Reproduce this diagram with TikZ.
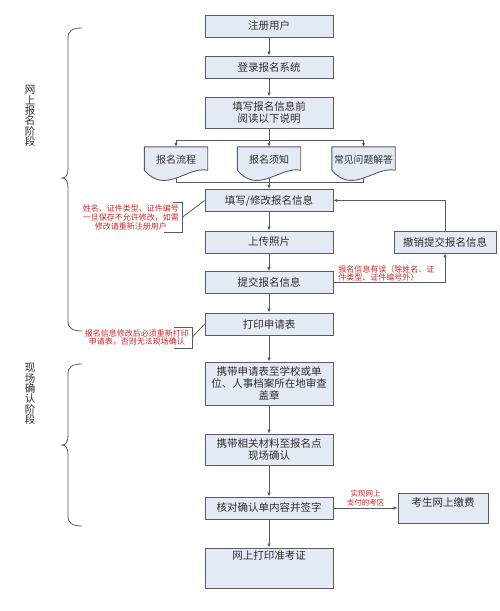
\documentclass[tikz,border=0pt]{standalone}
\usepackage{fontspec}
\setmainfont{Noto Sans CJK SC}
\usepackage{xcolor}
\usetikzlibrary{arrows.meta,backgrounds}
\definecolor{BoxFill}{RGB}{228,234,244}
\definecolor{BoxLine}{RGB}{88,92,98}
\definecolor{TextGray}{RGB}{45,45,45}
\definecolor{NoteRed}{RGB}{208,38,38}

\begin{document}
\begin{tikzpicture}[x=1pt, y=-1pt,
    stepbox/.style={draw=BoxLine, line width=0.9pt, fill=BoxFill, text=TextGray, minimum width=128pt,
      minimum height=22pt, inner sep=2pt, align=center, font=\fontsize{10.5}{12}\selectfont},
    docnode/.style={minimum width=63pt, minimum height=31pt, inner sep=1pt, text=TextGray,
      text height=9pt, text depth=8pt, font=\fontsize{10}{12}\selectfont},
    docline/.style={draw=BoxLine, line width=0.9pt, fill=BoxFill},
    toptext/.style={text height=9pt, text depth=#1},
    arr/.style={draw=BoxLine, line width=0.8pt, -{Latex[length=4pt,width=3.5pt]}},
    link/.style={draw=BoxLine, line width=0.8pt},
    note/.style={text=NoteRed, align=center, inner xsep=3pt, inner ysep=2pt, font=\fontsize{8}{8.8}\selectfont},
    stage/.style={text=TextGray, align=center, font=\fontsize{10.5}{10.4}\selectfont}]
  \useasboundingbox (0,0) rectangle (500,611);

  \node[stage] (wangshang) at (30,116) {网\\上\\报\\名\\阶\\段};
  \node[stage] (xianchang) at (30,394) {现\\场\\确\\认\\阶\\段};
  \foreach \t/\m/\b in {28/178/331, 364/445/526}
    \draw[link] (82,\t) .. controls (72,\t) and (68,\t+3) .. (68,\t+10) -- (68,\m-10)
      .. controls (68,\m-3) and (66,\m) .. (62,\m) .. controls (66,\m) and (68,\m+3) .. (68,\m+10)
      -- (68,\b-10) .. controls (68,\b-3) and (72,\b) .. (82,\b);

  \node[stepbox] (zhuce) at (269,26) {注册用户};
  \node[stepbox] (denglu) at (269,67) {登录报名系统};
  \node[stepbox, minimum height=31pt] (shuoming) at (269,112.5) {填写报名信息前\\阅读以下说明};
  \node[docnode] (liucheng) at (176,162.5) {报名流程};
  \node[docnode] (xuzhi) at (269,162.5) {报名须知};
  \node[docnode, font=\fontsize{9.8}{12}\selectfont] (wenti) at (363.5,162.5) {常见问题解答};
  \begin{scope}[on background layer]
    \foreach \n in {liucheng,xuzhi,wenti}
      \draw[docline] (\n.north west) -- (\n.north east) -- ([yshift=8pt]\n.south east)
        .. controls ([xshift=-21pt,yshift=12pt]\n.south east) and ([xshift=21pt,yshift=-17pt]\n.south west)
        .. ([yshift=8pt]\n.south west) -- cycle;
  \end{scope}
  \node[stepbox] (tianxie) at (269,200.5) {填写/修改报名信息};
  \node[stepbox] (zhaopian) at (269,242) {上传照片};
  \node[stepbox] (tijiao) at (269,282.5) {提交报名信息};
  \node[stepbox] (shenqing) at (269,324) {打印申请表};
  \node[stepbox, minimum width=102pt] (chexiao) at (445,242) {撤销提交报名信息};
  \node[stepbox, minimum height=43pt] (shencha) at (269,383.5) {携带申请表至学校或单\\位、人事档案所在地审查\\盖章};
  \node[stepbox, minimum height=31pt] (queren) at (269,449.5) {携带相关材料至报名点\\现场确认};
  \node[stepbox] (hedui) at (269,508) {核对确认单内容并签字};
  \node[stepbox, minimum width=90pt, minimum height=30pt, toptext=13pt] (jiaofei) at (443,508) {考生网上缴费};
  \node[stepbox, minimum height=40pt, toptext=27pt] (zhunkao) at (269,568) {网上打印准考证};

  \node[note, anchor=east] (zhuyi1) at (182,217.5) {姓名、证件类型、证件编号\\一旦保存不允许修改，如需\\修改请重新注册用户};
  \node[note, anchor=east] (zhuyi2) at (192,337.5) {报名信息修改后必须重新打印\\申请表，否则无法现场确认};
  \draw[link] ([xshift=-9pt]zhuyi1.north east) -- (zhuyi1.north east) -- (zhuyi1.south east) -- ([xshift=-18pt]zhuyi1.south east);
  \draw[link] ([xshift=-18pt]zhuyi2.north east) -- (zhuyi2.north east) -- (zhuyi2.south east) -- ([xshift=-18pt]zhuyi2.south east);
  \draw[link] (zhuyi1.east) -- (tianxie.west);
  \draw[link] (zhuyi2.east) -- (shenqing.west);

  \draw[arr] (zhuce) -- (denglu);
  \draw[arr] (denglu) -- (shuoming);
  \draw[arr] (shuoming) -- (xuzhi);
  \draw[arr] (shuoming.south) -- ++(0,11.5) -| (liucheng.north);
  \draw[arr] (shuoming.south) -- ++(0,11.5) -| (wenti.north);
  \draw[link] (liucheng.south) -- ++(0,4) -| (wenti.south);
  \draw[arr] (xuzhi) -- (tianxie);
  \draw[arr] (tianxie) -- (zhaopian);
  \draw[arr] (zhaopian) -- (tijiao);
  \draw[arr] (tijiao) -- (shenqing);
  \draw[arr] (tijiao.east) -| node[note, pos=0, anchor=south west, align=left, inner sep=0.5pt, xshift=4pt] (zhuyi3)
    {报名信息有误（除姓名、证\\件类型、证件编号外）} (chexiao.south);
  \draw[arr] (chexiao.north) |- (tianxie.east);
  \draw[arr] (shenqing) -- (shencha);
  \draw[arr] (shencha) -- (queren);
  \draw[arr] (queren) -- (hedui);
  \draw[arr] (hedui) -- node[note, above, inner sep=1.5pt, font=\fontsize{7.5}{8.6}\selectfont] (zhuyi4)
    {实现网上\\支付的考区} (jiaofei);
  \draw[arr] (hedui) -- (zhunkao);
\end{tikzpicture}
\end{document}
